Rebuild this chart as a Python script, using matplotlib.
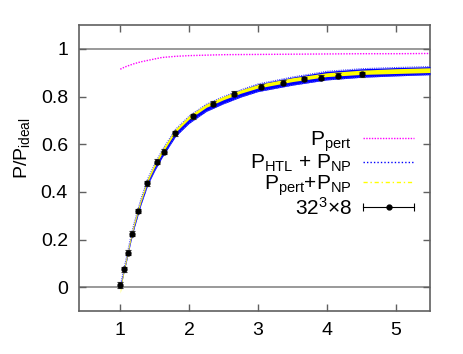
import matplotlib
matplotlib.use('Agg')
import matplotlib.pyplot as plt
from matplotlib.lines import Line2D
from matplotlib.legend_handler import HandlerLine2D, HandlerTuple

plt.rcParams['font.family'] = ['Liberation Sans', 'DejaVu Sans']
plt.rcParams['mathtext.fontset'] = 'custom'
plt.rcParams['mathtext.rm'] = 'Liberation Sans'
plt.rcParams['mathtext.it'] = 'Liberation Sans'

# lattice data, 32^3 x 8
t_lat = [1.0, 1.058, 1.11, 1.17, 1.256, 1.39, 1.54, 1.63, 1.79, 2.06,
         2.35, 2.65, 3.05, 3.36, 3.67, 3.91, 4.16, 4.51]
p_lat = [0.01, 0.075, 0.145, 0.224, 0.32, 0.436, 0.527, 0.569, 0.646, 0.718,
         0.771, 0.812, 0.841, 0.858, 0.874, 0.88, 0.887, 0.894]
p_err = [0.012, 0.01, 0.01, 0.01, 0.01, 0.01, 0.01, 0.01, 0.01, 0.01,
         0.01, 0.01, 0.01, 0.01, 0.01, 0.01, 0.01, 0.01]

# perturbative curve
t_pert = [1.0, 1.05, 1.1, 1.2, 1.3, 1.4, 1.6, 1.8, 2.0, 2.5, 3.0, 3.5, 4.0,
          4.5, 5.0, 5.5]
p_pert = [0.915, 0.922, 0.928, 0.938, 0.946, 0.952, 0.964, 0.969, 0.972,
          0.976, 0.977, 0.978, 0.979, 0.98, 0.98, 0.981]

# bands
t_band = [1.0, 1.02, 1.05, 1.1, 1.15, 1.2, 1.3, 1.4, 1.5, 1.6, 1.8, 2.0,
          2.25, 2.5, 2.75, 3.0, 3.5, 4.0, 4.5, 5.0, 5.5]
htl_lo = [-0.006, 0.018, 0.058, 0.121, 0.188, 0.246, 0.346, 0.43, 0.489, 0.541,
          0.632, 0.688, 0.738, 0.77, 0.798, 0.821, 0.848, 0.87, 0.881, 0.887,
          0.892]
htl_hi = [0.006, 0.032, 0.074, 0.139, 0.208, 0.268, 0.37, 0.456, 0.517, 0.571,
          0.662, 0.718, 0.768, 0.8, 0.828, 0.853, 0.882, 0.906, 0.917, 0.922,
          0.926]
pp_lo = [-0.025, 0.012, 0.06, 0.128, 0.197, 0.257, 0.358, 0.444, 0.505, 0.558,
         0.65, 0.706, 0.755, 0.787, 0.814, 0.836, 0.863, 0.884, 0.893, 0.897,
         0.901]
pp_hi = [-0.008, 0.028, 0.076, 0.143, 0.212, 0.272, 0.373, 0.459, 0.52, 0.574,
         0.664, 0.72, 0.769, 0.801, 0.828, 0.851, 0.879, 0.9, 0.911, 0.917,
         0.921]

fig = plt.figure(figsize=(4.63, 3.54), dpi=100)
ax = fig.add_axes([0.1706, 0.1215, 0.7581, 0.8075])

ax.axhline(0, color='#888888', lw=1.2, zorder=1)
ax.axhline(1, color='#888888', lw=1.2, zorder=1)

ax.plot(t_pert, p_pert, color='#ff00ff', lw=1.0, ls=(0, (1, 1)), zorder=2)

ax.fill_between(t_band, htl_lo, htl_hi, color='#0000ff', lw=0, zorder=3)
ax.plot(t_band, htl_lo, color='#4040ff', lw=0.8, ls=(0, (1, 1)), zorder=3)
ax.plot(t_band, htl_hi, color='#4040ff', lw=0.8, ls=(0, (1, 1)), zorder=3)
ax.fill_between(t_band, pp_lo, pp_hi, color='#ffff00', lw=0, zorder=4)

ax.errorbar(t_lat, p_lat, yerr=p_err, fmt='o', color='black', ms=3.5,
            ecolor='#333333', elinewidth=0.8, capsize=2.5, capthick=0.8,
            zorder=5)

ax.set_xlim(0.4, 5.5)
ax.set_ylim(-0.1, 1.1)
ax.set_xticks([1, 2, 3, 4, 5])
ax.set_yticks([0, 0.2, 0.4, 0.6, 0.8, 1])
ax.set_yticklabels(['0', '0.2', '0.4', '0.6', '0.8', '1'])
ax.tick_params(direction='in', length=5, width=1, color='#606060',
               labelsize=14, top=True, right=True, pad=8)
for s in ax.spines.values():
    s.set_color('#606060')
    s.set_linewidth(1.2)

ax.set_ylabel(r'P/P$_\mathregular{ideal}$', fontsize=14)
ax.yaxis.set_label_coords(-0.135, 0.57)

h_pert = Line2D([], [], color='#ff00ff', lw=1.0, ls=(0, (1, 1)))
h_htl = Line2D([], [], color='#0000ff', lw=1.0, ls=(0, (1, 1.5)))
h_pp = Line2D([], [], color='#ffff00', lw=1.0, ls=(0, (3, 2, 1, 2)))
h_bar = Line2D([], [], color='black', lw=0.8, marker='|', ms=6, mew=0.8)
h_dot = Line2D([], [], color='black', lw=0, marker='o', ms=3.5)

leg = ax.legend([h_pert, h_htl, h_pp, (h_bar, h_dot)],
                [r'P$_\mathregular{pert}$',
                 r'P$_\mathregular{HTL}$ + P$_\mathregular{NP}$',
                 r'P$_\mathregular{pert}$+P$_\mathregular{NP}$',
                 r'32$^\mathregular{3}$×8'],
                handler_map={h_bar: HandlerLine2D(numpoints=2, marker_pad=0),
                             h_dot: HandlerLine2D(numpoints=1),
                             tuple: HandlerTuple(ndivide=1)},
                loc='upper right', bbox_to_anchor=(0.955, 0.635),
                frameon=False, fontsize=15, markerfirst=False,
                handlelength=2.45, handletextpad=0.55, labelspacing=-0.05,
                borderpad=0, borderaxespad=0)

fig.savefig('out.png', dpi=100)
